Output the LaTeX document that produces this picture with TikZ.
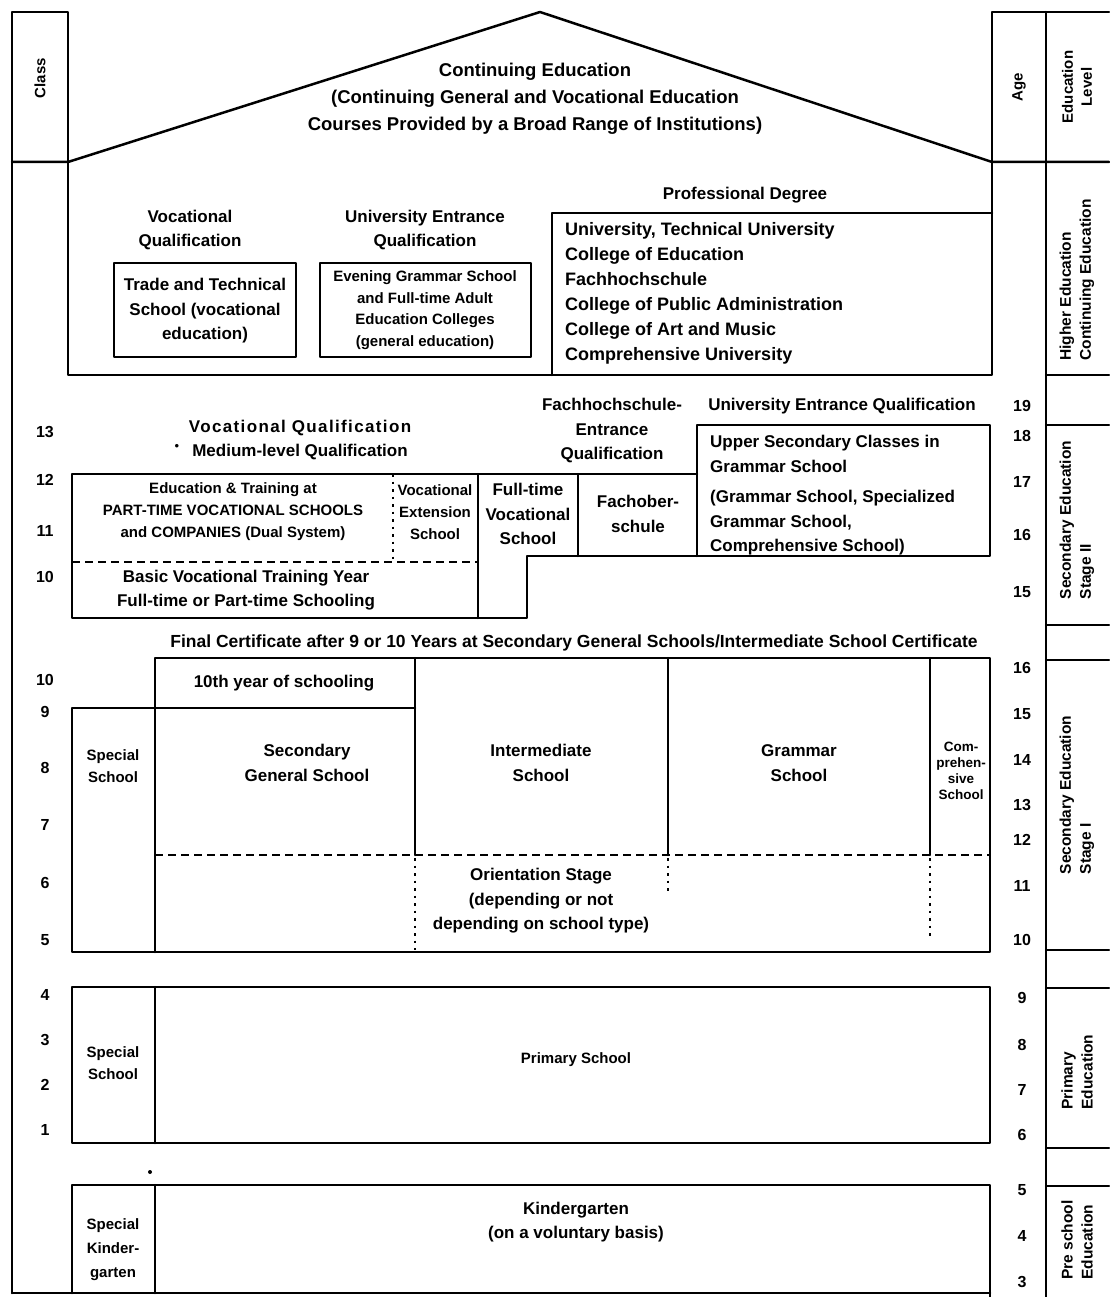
\documentclass[tikz,border=0pt]{standalone}
\usepackage{fontspec}
\setmainfont{Liberation Sans}
\begin{document}
\begin{tikzpicture}[x=1pt, y=-1pt,
  wall/.style={line width=2.5pt, line cap=round, line join=round},
  dashline/.style={line width=2pt, dash pattern=on 8pt off 5pt},
  dotline/.style={line width=1.8pt, dash pattern=on 2.5pt off 5pt},
  lbl/.style={font=\bfseries\fontsize{17}{24.5}\selectfont, align=center, inner sep=0pt},
  small/.style={font=\bfseries\fontsize{15}{22}\selectfont, align=center, inner sep=0pt},
  tiny/.style={font=\bfseries\fontsize{13.5}{16}\selectfont, align=center, inner sep=0pt},
  num/.style={font=\bfseries\fontsize{16}{16}\selectfont, inner sep=0pt},
  vlab/.style={rotate=90, font=\bfseries\fontsize{15.5}{20}\selectfont, align=left, inner sep=0pt},
  hdr/.style={rotate=90, font=\bfseries\fontsize{15}{19}\selectfont, align=center, inner sep=0pt}]
\useasboundingbox (0,0) rectangle (1109,1297);
\fill[white] (0,0) rectangle (1109,1297);

% ---------- frame: class column, roof, age and level columns ----------
\draw[wall] (12,1293) -- (12,12) -- (68,12) -- (68,375) -- (992,375) -- (992,12) -- (1109,12);
\draw[wall] (12,162) -- (68,162) -- (540,12) -- (992,162) -- (1109,162);
\draw[wall] (1046,12) -- (1046,1297);
\foreach \yy in {375,425,625,660,950,988,1148,1186}
  \draw[wall] (1046,\yy) -- (1109,\yy);
\draw[wall] (12,1293) -- (990,1293);

% ---------- higher education ----------
\draw[wall] (114,263) rectangle (296,357);
\draw[wall] (320,263) rectangle (531,357);
\draw[wall] (552,375) -- (552,213) -- (992,213);

% ---------- secondary education stage II ----------
\draw[wall] (697,556) -- (697,425) -- (990,425) -- (990,556) -- (527,556) -- (527,618) -- (72,618) -- (72,474) -- (697,474);
\draw[wall] (478,474) -- (478,618);
\draw[wall] (578,474) -- (578,556);
\draw[dashline] (72,562) -- (478,562);
\draw[dotline] (393,474) -- (393,562);

% ---------- secondary education stage I ----------
\draw[wall] (155,708) -- (155,658) -- (990,658) -- (990,952) -- (72,952) -- (72,708) -- (415,708);
\draw[wall] (155,708) -- (155,952);
\draw[wall] (415,658) -- (415,855);
\draw[wall] (668,658) -- (668,855);
\draw[wall] (930,658) -- (930,855);
\draw[dashline] (155,855) -- (990,855);
\draw[dotline] (415,858) -- (415,950);
\draw[dotline] (668,858) -- (668,895);
\draw[dotline] (930,858) -- (930,940);

% ---------- primary and pre-school ----------
\draw[wall] (72,987) rectangle (990,1143);
\draw[wall] (155,987) -- (155,1143);
\draw[wall] (72,1293) -- (72,1185) -- (990,1185) -- (990,1297);
\draw[wall] (155,1185) -- (155,1293);
\fill (150,1172) circle (2pt);

% ---------- headers ----------
\node[hdr] (classhd) at (40,78) {Class};
\node[hdr] (agehd) at (1019,87) {Age};
\node[hdr] (levelhd) at (1077,87) {Education\\Level};
\node[lbl, font=\bfseries\fontsize{18.5}{27}\selectfont] (cont) at (535,99)
  {Continuing Education\\(Continuing General and Vocational Education\\Courses Provided by a Broad Range of Institutions)};

% ---------- education level column ----------
\node[vlab] (lvhigher) at (1077,280) {Higher Education\\Continuing Education};
\node[vlab] (lvsec2) at (1077,520) {Secondary Education\\Stage II};
\node[vlab] (lvsec1) at (1077,795) {Secondary Education\\Stage I};
\node[vlab] (lvprim) at (1077,1072) {Primary\\Education};
\node[vlab] (lvpre) at (1077,1240) {Pre school\\Education};

% ---------- higher education labels ----------
\node[lbl] (vq1) at (190,230) {Vocational\\Qualification};
\node[lbl] (trade) at (205,311) {Trade and Technical\\School (vocational\\education)};
\node[lbl] (ueq1) at (425,230) {University Entrance\\Qualification};
\node[small, font=\bfseries\fontsize{15}{21.5}\selectfont] (evening) at (425,310)
  {Evening Grammar School\\and Full-time Adult\\Education Colleges\\(general education)};
\node[lbl] (profdeg) at (745,195) {Professional Degree};
\node[lbl, font=\bfseries\fontsize{18}{25}\selectfont, align=left, anchor=north west] (unis) at (565,222)
  {University, Technical University\\College of Education\\Fachhochschule\\College of Public Administration\\College of Art and Music\\Comprehensive University};

% ---------- stage II labels ----------
\node[lbl] (fhq) at (612,431) {Fachhochschule-\\Entrance\\Qualification};
\node[lbl] (ueq2) at (842,406) {University Entrance Qualification};
\node[lbl, font=\bfseries\fontsize{17}{20}\selectfont\addfontfeature{LetterSpace=8}] (vq2) at (300,428) {Vocational Qualification};
\node[lbl] (mlq) at (300,452) {Medium-level Qualification};
\node[font=\fontsize{13}{13}\selectfont, inner sep=0pt] (bullet) at (177,447) {\textbullet};
\node[lbl, align=left, anchor=north west] (upper) at (710,435) {Upper Secondary Classes in\\Grammar School};
\node[lbl, align=left, anchor=north west] (upperb) at (710,490) {(Grammar School, Specialized\\Grammar School,\\Comprehensive School)};
\node[small] (dual) at (233,512) {Education \& Training at\\PART-TIME VOCATIONAL SCHOOLS\\and COMPANIES (Dual System)};
\node[small] (ves) at (435,512) {Vocational\\Extension\\School};
\node[lbl] (bvty) at (246,590) {Basic Vocational Training Year\\Full-time or Part-time Schooling};
\node[lbl] (ftvs) at (528,514) {Full-time\\Vocational\\School};
\node[lbl] (fos) at (638,514) {Fachober-\\schule};
\node[lbl, font=\bfseries\fontsize{17.5}{20}\selectfont] (final) at (574,643) {Final Certificate after 9 or 10 Years at Secondary General Schools/Intermediate School Certificate};

% ---------- stage I labels ----------
\node[lbl] (tenth) at (284,683) {10th year of schooling};
\node[small] (spec1) at (113,766) {Special\\School};
\node[lbl] (sgs) at (307,763) {Secondary\\General School};
\node[lbl] (inter) at (541,763) {Intermediate\\School};
\node[lbl] (gram) at (799,763) {Grammar\\School};
\node[tiny] (compr) at (961,771) {Com-\\prehen-\\sive\\School};
\node[lbl] (orient) at (541,901) {Orientation Stage\\(depending or not\\depending on school type)};

% ---------- primary and pre-school labels ----------
\node[small] (spec2) at (113,1063) {Special\\School};
\node[small] (prim) at (576,1060) {Primary School};
\node[small, font=\bfseries\fontsize{15}{24}\selectfont] (spec3) at (113,1250) {Special\\Kinder-\\garten};
\node[lbl] (kinder) at (576,1222) {Kindergarten\\(on a voluntary basis)};

% ---------- class numbers ----------
\foreach \n/\yy [count=\i] in {13/432,12/480,11/531,10/577,10/680,9/712,8/768,7/825,6/883,5/940,4/995,3/1040,2/1085,1/1130}
  \node[num] (class\i) at (45,\yy) {\n};
% ---------- ages ----------
\foreach \n/\yy [count=\i] in {19/406,18/436,17/482,16/535,15/592,16/668,15/714,14/760,13/805,12/840,11/886,10/940,9/998,8/1045,7/1090,6/1135,5/1190,4/1236,3/1282}
  \node[num] (age\i) at (1022,\yy) {\n};
\end{tikzpicture}
\end{document}
